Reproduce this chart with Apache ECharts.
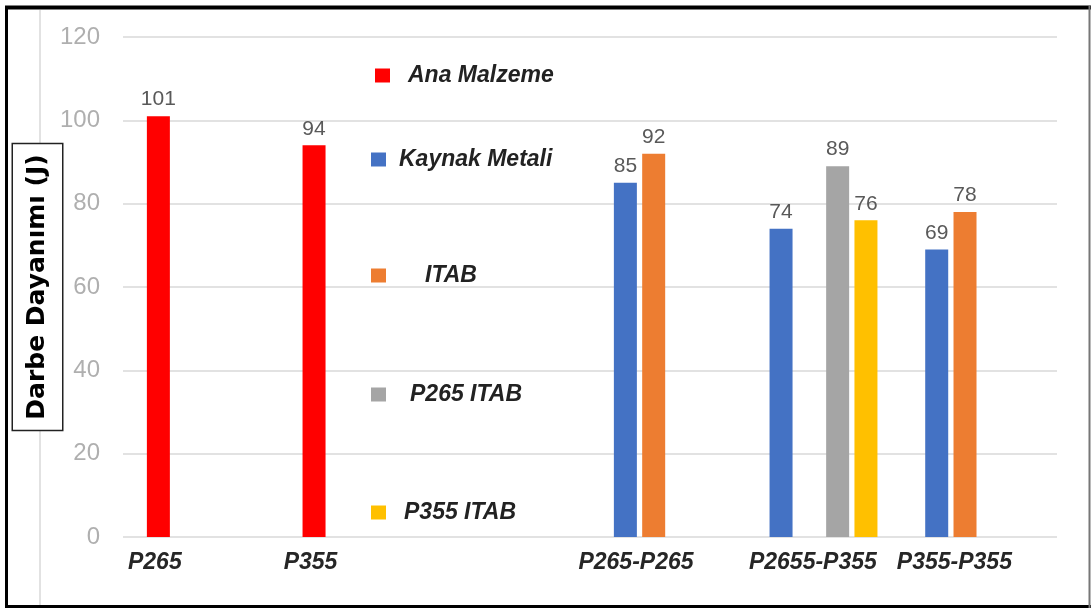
<!DOCTYPE html>
<html>
<head>
<meta charset="utf-8">
<title>Darbe Dayanımı</title>
<script src="https://cdn.jsdelivr.net/npm/echarts@6/dist/echarts.min.js"></script>
<style>
  html, body { margin: 0; padding: 0; background: #fff; }
  #chart { width: 1092px; height: 609px; }
</style>
</head>
<body>
<div id="chart"></div>
<script>
// chart data
const groups = ['P265', 'P355', 'P265-P265', 'P2655-P355', 'P355-P355'];
const seriesNames = ['Ana Malzeme', 'Kaynak Metali', 'ITAB', 'P265 ITAB', 'P355 ITAB'];
const anaMalzeme = [101, 94, null, null, null];
const kaynakMetali = [null, null, 85, 74, 69];
const itab = [null, null, 92, null, 78];
const p265Itab = [null, null, null, 89, null];
const p355Itab = [null, null, null, 76, null];
const yTicks = [0, 20, 40, 60, 80, 100, 120];

// layout: the bars sit on a fine category axis so the groups can be spaced unevenly
const slotCount = 66;
const groupSlots = [2, 13, 35, 46, 57];
const seriesSlotOffsets = [0, 0, 2, 4, 6];
const labelSlotCount = 132;
const labelSlots = [4, 26, 72, 97, 117];

const colors = ['#ff0000', '#4472c4', '#ed7d31', '#a5a5a5', '#ffc000'];
const legendTops = [64, 148, 264, 383, 501];
const legendLefts = [375, 371, 371, 371, 371];
const legendTextGaps = [13, 8, 34, 19, 13];

function spreadToSlots(values, offset) {
  const out = new Array(slotCount).fill(null);
  values.forEach((v, i) => {
    if (v !== null) {
      out[groupSlots[i] + offset] = v;
    }
  });
  return out;
}

function labelAxisData() {
  const out = new Array(labelSlotCount).fill('');
  groups.forEach((g, i) => {
    out[labelSlots[i]] = g;
  });
  return out;
}

const seriesValues = [anaMalzeme, kaynakMetali, itab, p265Itab, p355Itab];

const series = seriesValues.map((values, i) => ({
  name: seriesNames[i],
  type: 'bar',
  xAxisIndex: 0,
  barWidth: 23,
  barGap: '-100%',
  itemStyle: { color: colors[i] },
  label: {
    show: true,
    position: 'top',
    distance: 6,
    color: '#595959',
    fontFamily: 'Liberation Sans',
    fontSize: 21,
  },
  data: spreadToSlots(values, seriesSlotOffsets[i]),
}));

const legends = seriesNames.map((name, i) => ({
  data: [name],
  orient: 'vertical',
  left: legendLefts[i],
  top: legendTops[i],
  padding: 0,
  icon: 'rect',
  itemWidth: 15,
  itemHeight: 14,
  selectedMode: false,
  textStyle: {
    fontFamily: 'Liberation Sans',
    fontSize: 23,
    fontStyle: 'italic',
    fontWeight: 'bold',
    color: '#222',
    padding: [0, 0, 0, legendTextGaps[i]],
  },
}));

const option = {
  backgroundColor: '#fff',
  animation: false,
  color: colors,
  grid: { left: 123, right: 35, top: 37, bottom: 72, containLabel: false, outerBoundsMode: 'none' },
  legend: legends,
  xAxis: [
    {
      type: 'category',
      data: new Array(slotCount).fill(''),
      axisLine: { show: false },
      axisTick: { show: false },
      axisLabel: { show: false },
    },
    {
      type: 'category',
      position: 'bottom',
      data: labelAxisData(),
      axisLine: { show: false },
      axisTick: { show: false },
      axisLabel: {
        interval: 0,
        margin: 14,
        color: '#262626',
        fontFamily: 'Liberation Sans',
        fontSize: 23,
        fontStyle: 'italic',
        fontWeight: 'bold',
      },
    },
  ],
  yAxis: {
    type: 'value',
    min: yTicks[0],
    max: yTicks[yTicks.length - 1],
    interval: yTicks[1] - yTicks[0],
    name: 'Darbe Dayanımı (J)',
    nameLocation: 'middle',
    nameRotate: 90,
    nameGap: 61,
    nameMoveOverlap: false,
    nameTextStyle: {
      fontFamily: 'DejaVu Sans',
      fontSize: 25,
      fontWeight: 'bold',
      lineHeight: 27,
      color: '#000',
      borderColor: '#222',
      borderWidth: 1.5,
      padding: [11, 10, 11, 10],
      backgroundColor: '#fff',
    },
    axisLine: { show: false },
    axisTick: { show: false },
    axisLabel: {
      margin: 23,
      color: '#afafaf',
      fontFamily: 'Liberation Sans',
      fontSize: 24,
    },
    splitLine: { lineStyle: { color: '#d9d9d9', width: 1.5 } },
  },
  graphic: [
    { type: 'line', shape: { x1: 40, y1: 10, x2: 40, y2: 605 }, style: { stroke: '#d9d9d9', lineWidth: 1.5 }, z: -1 },
    { type: 'line', shape: { x1: 5, y1: 7.5, x2: 1091, y2: 7.5 }, style: { stroke: '#000', lineWidth: 4 } },
    { type: 'line', shape: { x1: 6.5, y1: 6, x2: 6.5, y2: 608 }, style: { stroke: '#000', lineWidth: 3 } },
    { type: 'line', shape: { x1: 5, y1: 606.5, x2: 1091, y2: 606.5 }, style: { stroke: '#000', lineWidth: 3 } },
    { type: 'line', shape: { x1: 1089.5, y1: 6, x2: 1089.5, y2: 608 }, style: { stroke: '#777', lineWidth: 2 } },
  ],
  series: series,
};

const myChart = echarts.init(document.getElementById('chart'));
myChart.setOption(option);
</script>
</body>
</html>
